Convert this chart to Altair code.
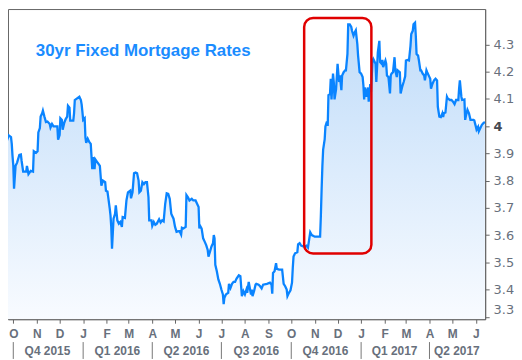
import altair as alt
import pandas as pd

# ---- data ----
dates = [
    "2015-09-17", "2015-09-19", "2015-09-20", "2015-09-23", "2015-09-25", "2015-09-28", "2015-09-29", "2015-09-30",
    "2015-10-01", "2015-10-02", "2015-10-04", "2015-10-06", "2015-10-09", "2015-10-11", "2015-10-12", "2015-10-14",
    "2015-10-18", "2015-10-19", "2015-10-21", "2015-10-24", "2015-10-27", "2015-10-28", "2015-10-31",
    "2015-11-02", "2015-11-03", "2015-11-05", "2015-11-06", "2015-11-08", "2015-11-09", "2015-11-11", "2015-11-13",
    "2015-11-15", "2015-11-18", "2015-11-19", "2015-11-21", "2015-11-23", "2015-11-28", "2015-11-29",
    "2015-12-01", "2015-12-02", "2015-12-04", "2015-12-05", "2015-12-06", "2015-12-07", "2015-12-09", "2015-12-11",
    "2015-12-12", "2015-12-14", "2015-12-15", "2015-12-19", "2015-12-20", "2015-12-21", "2015-12-24", "2015-12-27",
    "2015-12-29", "2015-12-30", "2015-12-31",
    "2016-01-01", "2016-01-03", "2016-01-04", "2016-01-05", "2016-01-07", "2016-01-09", "2016-01-11", "2016-01-13",
    "2016-01-14", "2016-01-16", "2016-01-17", "2016-01-19", "2016-01-21", "2016-01-23", "2016-01-25", "2016-01-27",
    "2016-01-30", "2016-01-31",
    "2016-02-02", "2016-02-03", "2016-02-05", "2016-02-06", "2016-02-07", "2016-02-08", "2016-02-10", "2016-02-12",
    "2016-02-13", "2016-02-15", "2016-02-17", "2016-02-19", "2016-02-21", "2016-02-22", "2016-02-25", "2016-02-27",
    "2016-02-29",
    "2016-03-03", "2016-03-04", "2016-03-06", "2016-03-08", "2016-03-10", "2016-03-12", "2016-03-14", "2016-03-15",
    "2016-03-17", "2016-03-19", "2016-03-21", "2016-03-23", "2016-03-25", "2016-03-27", "2016-03-28", "2016-03-31",
    "2016-04-01", "2016-04-03", "2016-04-05", "2016-04-07", "2016-04-10", "2016-04-12", "2016-04-14", "2016-04-16",
    "2016-04-18", "2016-04-20", "2016-04-22", "2016-04-24", "2016-04-26", "2016-04-27", "2016-04-29",
    "2016-05-01", "2016-05-03", "2016-05-06", "2016-05-07", "2016-05-09", "2016-05-10", "2016-05-12", "2016-05-15",
    "2016-05-16", "2016-05-18", "2016-05-20", "2016-05-23", "2016-05-25", "2016-05-28", "2016-05-30",
    "2016-06-01", "2016-06-02", "2016-06-03", "2016-06-05", "2016-06-07", "2016-06-09", "2016-06-11", "2016-06-13",
    "2016-06-14", "2016-06-16", "2016-06-18", "2016-06-20", "2016-06-21", "2016-06-22", "2016-06-23", "2016-06-25",
    "2016-06-27", "2016-06-29",
    "2016-07-01", "2016-07-03", "2016-07-04", "2016-07-05", "2016-07-07", "2016-07-10", "2016-07-11", "2016-07-13",
    "2016-07-15", "2016-07-17", "2016-07-19", "2016-07-21", "2016-07-24", "2016-07-26", "2016-07-28", "2016-07-30",
    "2016-08-01", "2016-08-03", "2016-08-04", "2016-08-06", "2016-08-07", "2016-08-09", "2016-08-10", "2016-08-11",
    "2016-08-13", "2016-08-15", "2016-08-16", "2016-08-19", "2016-08-21", "2016-08-23", "2016-08-25", "2016-08-30",
    "2016-09-03", "2016-09-05", "2016-09-06", "2016-09-07", "2016-09-09", "2016-09-11", "2016-09-12", "2016-09-15",
    "2016-09-19", "2016-09-21", "2016-09-23", "2016-09-25", "2016-09-26", "2016-09-28", "2016-09-30",
    "2016-10-02", "2016-10-03", "2016-10-04", "2016-10-06", "2016-10-09", "2016-10-10", "2016-10-12", "2016-10-14",
    "2016-10-18", "2016-10-21", "2016-10-23", "2016-10-26", "2016-10-28",
    "2016-11-01", "2016-11-05", "2016-11-08", "2016-11-09", "2016-11-10", "2016-11-11", "2016-11-12", "2016-11-14",
    "2016-11-15", "2016-11-17", "2016-11-18", "2016-11-19", "2016-11-21", "2016-11-22", "2016-11-23", "2016-11-25",
    "2016-11-26", "2016-11-27", "2016-11-29",
    "2016-12-01", "2016-12-03", "2016-12-04", "2016-12-06", "2016-12-07", "2016-12-09", "2016-12-11", "2016-12-12",
    "2016-12-14", "2016-12-15", "2016-12-17", "2016-12-19", "2016-12-20", "2016-12-22", "2016-12-24", "2016-12-25",
    "2016-12-27", "2016-12-28", "2016-12-30",
    "2017-01-01", "2017-01-03", "2017-01-04", "2017-01-05", "2017-01-06", "2017-01-08", "2017-01-10", "2017-01-11",
    "2017-01-13", "2017-01-14", "2017-01-16", "2017-01-17", "2017-01-20", "2017-01-21", "2017-01-23", "2017-01-25",
    "2017-01-26", "2017-01-28", "2017-01-29", "2017-01-30",
    "2017-02-02", "2017-02-03", "2017-02-04", "2017-02-06", "2017-02-08", "2017-02-09", "2017-02-10", "2017-02-12",
    "2017-02-14", "2017-02-15", "2017-02-17", "2017-02-18", "2017-02-21", "2017-02-22", "2017-02-24", "2017-02-26",
    "2017-02-28",
    "2017-03-01", "2017-03-03", "2017-03-05", "2017-03-07", "2017-03-08", "2017-03-10", "2017-03-11", "2017-03-13",
    "2017-03-14", "2017-03-15", "2017-03-17", "2017-03-18", "2017-03-20", "2017-03-21", "2017-03-23", "2017-03-25",
    "2017-03-26", "2017-03-28", "2017-03-29",
    "2017-04-01", "2017-04-02", "2017-04-03", "2017-04-05", "2017-04-07", "2017-04-09", "2017-04-11", "2017-04-12",
    "2017-04-14", "2017-04-16", "2017-04-18", "2017-04-19", "2017-04-20", "2017-04-22", "2017-04-24", "2017-04-25",
    "2017-04-28", "2017-04-30",
    "2017-05-02", "2017-05-04", "2017-05-06", "2017-05-09", "2017-05-10", "2017-05-11", "2017-05-13", "2017-05-14",
    "2017-05-17", "2017-05-18", "2017-05-19", "2017-05-21", "2017-05-23", "2017-05-25", "2017-05-29", "2017-05-30",
    "2017-06-01", "2017-06-02", "2017-06-04", "2017-06-05", "2017-06-07", "2017-06-09", "2017-06-11", "2017-06-13",
]

rates = [
    3.975, 3.930, 3.957, 3.950, 3.966, 3.960, 3.935, 3.890,
    3.857, 3.770, 3.854, 3.866, 3.894, 3.896, 3.872, 3.833,
    3.833, 3.854, 3.824, 3.836, 3.833, 3.908, 3.902,
    3.908, 3.977, 3.993, 4.035, 4.047, 4.057, 4.035, 4.015,
    4.017, 4.008, 3.995, 4.008, 3.999, 3.999, 3.950,
    3.967, 4.029, 4.023, 3.987, 3.999, 4.011, 4.026, 4.035,
    4.075, 4.068, 4.020, 4.020, 4.047, 4.096, 4.102, 4.108,
    4.096, 4.080, 4.053,
    4.023, 4.029, 3.959, 3.939, 3.954, 3.942, 3.935, 3.842,
    3.886, 3.842, 3.878, 3.870, 3.862, 3.854, 3.781, 3.800,
    3.794, 3.763,
    3.760, 3.739, 3.697, 3.672, 3.630, 3.550, 3.660, 3.678,
    3.709, 3.654, 3.642, 3.648, 3.630, 3.666, 3.663, 3.727,
    3.757,
    3.763, 3.735, 3.757, 3.827, 3.830, 3.827, 3.800, 3.757,
    3.763, 3.794, 3.787, 3.794, 3.794, 3.739, 3.654, 3.654,
    3.634, 3.648, 3.638, 3.642, 3.658, 3.646, 3.654, 3.650,
    3.714, 3.753, 3.751, 3.733, 3.678, 3.672, 3.660,
    3.630, 3.612, 3.614, 3.614, 3.602, 3.627, 3.624, 3.630,
    3.747, 3.739, 3.727, 3.733, 3.727, 3.727, 3.715,
    3.703, 3.624, 3.634, 3.624, 3.588, 3.576, 3.563, 3.545,
    3.521, 3.539, 3.558, 3.570, 3.600, 3.588, 3.491, 3.467,
    3.437, 3.421,
    3.400, 3.382, 3.346, 3.370, 3.382, 3.388, 3.421, 3.406,
    3.421, 3.428, 3.428, 3.440, 3.452, 3.449, 3.376, 3.394,
    3.382, 3.400, 3.388, 3.428, 3.412, 3.382, 3.400, 3.376,
    3.394, 3.418, 3.421, 3.418, 3.412, 3.404, 3.418, 3.421,
    3.425, 3.418, 3.385, 3.461, 3.467, 3.497, 3.476, 3.473,
    3.473, 3.421, 3.412, 3.400, 3.376, 3.388, 3.397,
    3.425, 3.479, 3.521, 3.533, 3.537, 3.566, 3.570, 3.561,
    3.557, 3.561, 3.554, 3.610, 3.600,
    3.594, 3.594, 3.594, 3.672, 3.769, 3.854, 3.914, 3.951,
    3.999, 4.017, 4.001, 4.114, 4.117, 4.174, 4.098, 4.193,
    4.162, 4.098, 4.135,
    4.229, 4.162, 4.186, 4.132, 4.186, 4.198, 4.205, 4.205,
    4.265, 4.374, 4.374, 4.364, 4.350, 4.332, 4.347, 4.352,
    4.301, 4.259, 4.198,
    4.193, 4.180, 4.150, 4.098, 4.142, 4.108, 4.142, 4.090,
    4.154, 4.126, 4.241, 4.247, 4.229, 4.162, 4.271, 4.313,
    4.235, 4.229, 4.243, 4.217,
    4.241, 4.229, 4.186, 4.180, 4.120, 4.186, 4.193, 4.198,
    4.253, 4.205, 4.180, 4.205, 4.198, 4.120, 4.144, 4.162,
    4.183,
    4.241, 4.243, 4.241, 4.295, 4.338, 4.350, 4.374, 4.380,
    4.332, 4.265, 4.259, 4.243, 4.205, 4.205, 4.193, 4.186,
    4.168, 4.205, 4.198,
    4.180, 4.174, 4.138, 4.156, 4.168, 4.174, 4.168, 4.071,
    4.035, 4.033, 4.047, 4.033, 4.047, 4.050, 4.108, 4.102,
    4.096, 4.096,
    4.090, 4.081, 4.096, 4.096, 4.138, 4.168, 4.108, 4.096,
    4.098, 4.023, 4.038, 4.060, 4.047, 4.023, 4.023, 4.021,
    3.999, 3.987, 3.997, 3.981, 3.993, 4.005, 4.011, 4.015,
]

title_text = "30yr Fixed Mortgage Rates"
month_starts = [
    "2015-10", "2015-11", "2015-12", "2016-01", "2016-02", "2016-03", "2016-04", "2016-05", "2016-06",
    "2016-07", "2016-08", "2016-09", "2016-10", "2016-11", "2016-12", "2017-01", "2017-02", "2017-03",
    "2017-04", "2017-05", "2017-06",
]
quarter_labels = ["Q4 2015", "Q1 2016", "Q2 2016", "Q3 2016", "Q4 2016", "Q1 2017", "Q2 2017"]
quarter_centers = ["2015-11-15", "2016-02-15", "2016-05-16", "2016-08-16", "2016-11-15", "2017-02-14", "2017-05-07"]
quarter_starts = ["2015-10-01", "2016-01-01", "2016-04-01", "2016-07-01", "2016-10-01", "2017-01-01", "2017-04-01"]
y_ticks = [3.3, 3.4, 3.5, 3.6, 3.7, 3.8, 3.9, 4.0, 4.1, 4.2, 4.3]
y_domain = [3.291, 4.43]
box_start, box_end = "2016-10-18", "2017-01-14 12:00"
box_low, box_high = 3.532, 4.397

# ---- layout / style ----
W, H = 480, 312
LINE = "#0a84ff"
LABEL = "#68707c"
AXIS = "#666666"

df = pd.DataFrame({"date": pd.to_datetime(dates), "rate": rates})
q_df = pd.DataFrame({"date": pd.to_datetime(quarter_centers), "label": quarter_labels})
qs_df = pd.DataFrame({"date": pd.to_datetime(quarter_starts)})
box_df = pd.DataFrame({
    "date": [pd.Timestamp(box_start)], "date2": [pd.Timestamp(box_end)],
    "rate": [box_low], "rate2": [box_high],
})
title_df = pd.DataFrame({"t": [title_text]})

x_scale = alt.Scale(domain=[
    alt.DateTime(year=2015, month=9, date=24, hours=1),
    alt.DateTime(year=2017, month=6, date=13, hours=8),
])
y_scale = alt.Scale(domain=y_domain, nice=False, zero=False)

month_values = [alt.DateTime(year=int(s[:4]), month=int(s[5:]), date=1) for s in month_starts]

x_axis = alt.Axis(
    title=None, values=month_values, tickCount=100, grid=False,
    labelExpr="substring(timeFormat(datum.value, '%b'), 0, 1)",
    tickSize=4, tickColor=AXIS, domainColor=AXIS,
    labelFont="Liberation Sans", labelFontWeight="bold", labelFontSize=12,
    labelColor=LABEL, labelPadding=5, labelOverlap=False, labelFlush=False, labelBound=False,
)
y_axis = alt.Axis(
    title=None, orient="right", values=y_ticks, tickCount=100, grid=False,
    labelExpr="datum.value == 4 ? '4' : format(datum.value, '.1f')",
    tickSize=4, tickColor=AXIS, domainColor=AXIS,
    labelFont="DejaVu Sans", labelFontSize=13, labelPadding=4, labelFlush=5,
    labelOverlap=False, labelBound=False,
    labelColor={"condition": {"test": "datum.value == 4", "value": "#454a52"}, "value": LABEL},
    labelFontWeight={"condition": {"test": "datum.value == 4", "value": "bold"}, "value": "normal"},
)

gradient = alt.Gradient(
    gradient="linear",
    stops=[alt.GradientStop(color="#c0dcf9", offset=0), alt.GradientStop(color="#f8fbff", offset=1)],
    x1=0, x2=0, y1=0, y2=1,
)

area = alt.Chart(df).mark_area(clip=True, fill=gradient).encode(
    x=alt.X("date:T", scale=x_scale, axis=x_axis),
    y=alt.Y("rate:Q", scale=y_scale, axis=y_axis),
    y2=alt.datum(y_domain[0]),
)
line = alt.Chart(df).mark_line(clip=True, color=LINE, strokeWidth=2.3).encode(
    x="date:T", y="rate:Q"
)
box = alt.Chart(box_df).mark_rect(
    fill="transparent", stroke="#e00000", strokeWidth=2.5, cornerRadius=9
).encode(x="date:T", x2="date2:T", y="rate:Q", y2="rate2:Q")

title_layer = alt.Chart(title_df).mark_text(
    align="left", baseline="middle", font="Liberation Sans", fontWeight="bold",
    fontSize=17, color="#1a8cff",
).encode(x=alt.value(28), y=alt.value(42), text="t:N")

qsep = alt.Chart(qs_df).mark_rule(color="#777777", strokeWidth=1).encode(
    x="date:T", y=alt.value(H + 23), y2=alt.value(H + 40)
)
qtext = alt.Chart(q_df).mark_text(
    font="Liberation Sans", fontWeight="bold", fontSize=12, color=LABEL, baseline="middle"
).encode(x="date:T", y=alt.value(H + 32), text="label:N")

chart = alt.layer(area, line, box, title_layer, qsep, qtext).properties(
    width=W, height=H, padding={"left": 0, "top": 0, "right": 0, "bottom": 0}
).configure_view(stroke=AXIS, strokeWidth=1).configure_axis(labelOverlap=False)

chart.save("out.html", embed_options={"renderer": "svg", "actions": False})
